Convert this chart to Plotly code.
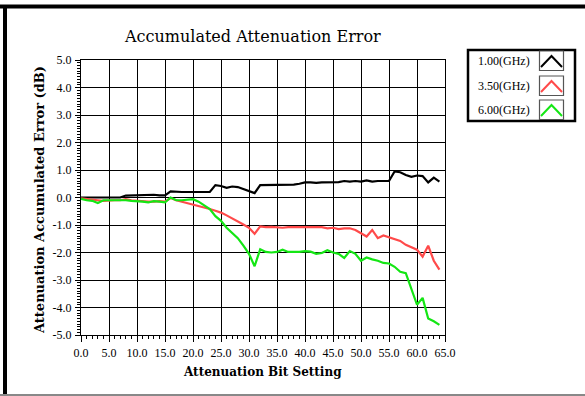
import plotly.graph_objects as go

# ---------------- data ----------------
bit_setting = list(range(0, 65))

err_1ghz = [0.0, 0.0, -0.01, 0.0, 0.0, 0.0, 0.0, 0.0, 0.07, 0.08,
            0.08, 0.08, 0.1, 0.1, 0.08, 0.08, 0.22, 0.2, 0.2, 0.2,
            0.21, 0.2, 0.2, 0.2, 0.45, 0.42, 0.35, 0.4, 0.38, 0.3,
            0.22, 0.16, 0.45, 0.45, 0.45, 0.47, 0.45, 0.45, 0.47, 0.5,
            0.55, 0.55, 0.53, 0.55, 0.55, 0.55, 0.56, 0.6, 0.58, 0.6,
            0.58, 0.62, 0.58, 0.6, 0.6, 0.6, 0.95, 0.92, 0.82, 0.75,
            0.8, 0.78, 0.55, 0.72, 0.58]

err_3p5ghz = [-0.03, -0.06, -0.08, -0.1, -0.12, -0.1, -0.1, -0.1, -0.06, -0.1,
              -0.12, -0.12, -0.15, -0.15, -0.13, -0.15, -0.02, -0.1, -0.15, -0.2,
              -0.25, -0.3, -0.35, -0.42, -0.48, -0.55, -0.65, -0.75, -0.85, -0.98,
              -1.1, -1.32, -1.05, -1.08, -1.07, -1.08, -1.1, -1.08, -1.08, -1.1,
              -1.08, -1.1, -1.1, -1.08, -1.12, -1.1, -1.15, -1.12, -1.12, -1.18,
              -1.3, -1.42, -1.18, -1.48, -1.38, -1.45, -1.52, -1.58, -1.72, -1.82,
              -1.9, -2.15, -1.75, -2.3, -2.62]

err_6ghz = [-0.05, -0.1, -0.12, -0.2, -0.1, -0.1, -0.08, -0.1, -0.1, -0.12,
            -0.13, -0.15, -0.18, -0.13, -0.15, -0.18, 0.0, -0.1, -0.1, -0.08,
            -0.06, -0.15, -0.3, -0.42, -0.68, -0.85, -1.1, -1.3, -1.48, -1.75,
            -2.05, -2.5, -1.88, -1.98, -2.0, -1.98, -1.9, -1.98, -1.98, -1.98,
            -1.95, -1.97, -2.05, -2.02, -1.92, -2.0, -2.05, -2.2, -1.95, -2.05,
            -2.3, -2.18, -2.25, -2.3, -2.38, -2.4, -2.52, -2.7, -2.75, -3.35,
            -3.9, -3.65, -4.4, -4.5, -4.63]

series_names = ["1.00(GHz)", "3.50(GHz)", "6.00(GHz)"]
series_colors = ["#000000", "#ff4a4a", "#14e614"]
x_ticks = [i * 5.0 for i in range(14)]
y_ticks = [float(v) for v in range(-5, 6)]

# ---------------- layout geometry (pixels) ----------------
W, H = 585, 396
L, R, T, B = 81, 445, 60, 335


def px(x):
    return (x - L) / (R - L)


def py(y):
    return (B - y) / (B - T)


fig = go.Figure()
for name, ys, col in zip(series_names, [err_1ghz, err_3p5ghz, err_6ghz], series_colors):
    fig.add_trace(go.Scatter(x=bit_setting, y=ys, mode="lines", name=name,
                             line=dict(color=col, width=2.2), showlegend=False))

tick_font = dict(family="Liberation Serif", size=12, color="#000")

fig.update_xaxes(range=[0, 65], tickvals=x_ticks,
                 ticktext=[f"{v:.1f}" for v in x_ticks],
                 showgrid=True, gridcolor="#000", gridwidth=1.3,
                 showline=True, linecolor="#000", linewidth=1.3, mirror=True,
                 ticks="outside", ticklen=6, tickcolor="#000", tickwidth=1,
                 minor=dict(dtick=1, ticklen=3, tickcolor="#000", ticks="outside", showgrid=False),
                 tickfont=tick_font, zeroline=False, fixedrange=True)
fig.update_yaxes(range=[-5, 5], tickvals=y_ticks,
                 ticktext=[f"{v:.1f}" for v in y_ticks],
                 showgrid=True, gridcolor="#000", gridwidth=1.3,
                 showline=True, linecolor="#000", linewidth=1.3, mirror=True,
                 ticks="outside", ticklen=5, tickcolor="#000", tickwidth=1,
                 minor=dict(dtick=0.1, ticklen=3, tickcolor="#000", ticks="outside", showgrid=False),
                 tickfont=tick_font, zeroline=False, fixedrange=True, ticklabelstandoff=1)

annotations = [
    dict(text="Accumulated Attenuation Error", x=px(252), y=py(36),
         font=dict(family="DejaVu Serif", size=16, color="#000")),
    dict(text="<b>Attenuation Bit Setting</b>", x=px(262), y=py(372),
         font=dict(family="DejaVu Serif", size=12, color="#000")),
    dict(text="<b>Attenuation Accumulated Error (dB)</b>", x=px(40), y=py(200), textangle=-90,
         font=dict(family="DejaVu Serif", size=13, color="#000")),
]

shapes = [
    # outer window frame
    dict(type="line", x0=px(0), x1=px(W), y0=py(6.5), y1=py(6.5), line=dict(color="#000", width=4)),
    dict(type="line", x0=px(5), x1=px(5), y0=py(5), y1=py(396), line=dict(color="#000", width=4)),
    dict(type="line", x0=px(0), x1=px(W), y0=py(395), y1=py(395), line=dict(color="#888", width=2)),
    # legend box
    dict(type="rect", x0=px(468), x1=px(575), y0=py(50), y1=py(121), line=dict(color="#000", width=2.5),
         fillcolor="#fff"),
]

sw_top = [51, 76, 100]
for i, (name, col) in enumerate(zip(series_names, series_colors)):
    t = sw_top[i]
    shapes.append(dict(type="rect", x0=px(539.5), x1=px(563.5), y0=py(t), y1=py(t + 19.5),
                       line=dict(color="#555", width=1.2), fillcolor="#fff"))
    shapes.append(dict(type="path",
                       path=f"M {px(541)} {py(t + 16)} L {px(551.5)} {py(t + 5)} L {px(562)} {py(t + 16)}",
                       line=dict(color=col, width=2)))
    annotations.append(dict(text=name, x=px(504), y=py(t + 10),
                            font=dict(family="Liberation Serif", size=12, color="#000")))

for a in annotations:
    a.update(xref="paper", yref="paper", showarrow=False, xanchor="center", yanchor="middle")
for s in shapes:
    s.update(xref="paper", yref="paper")

fig.update_layout(width=W, height=H, margin=dict(l=L, r=W - R, t=T, b=H - B),
                  paper_bgcolor="#fff", plot_bgcolor="#fff",
                  annotations=annotations, shapes=shapes, showlegend=False)

fig.write_html("out.html", config={"displayModeBar": False})
